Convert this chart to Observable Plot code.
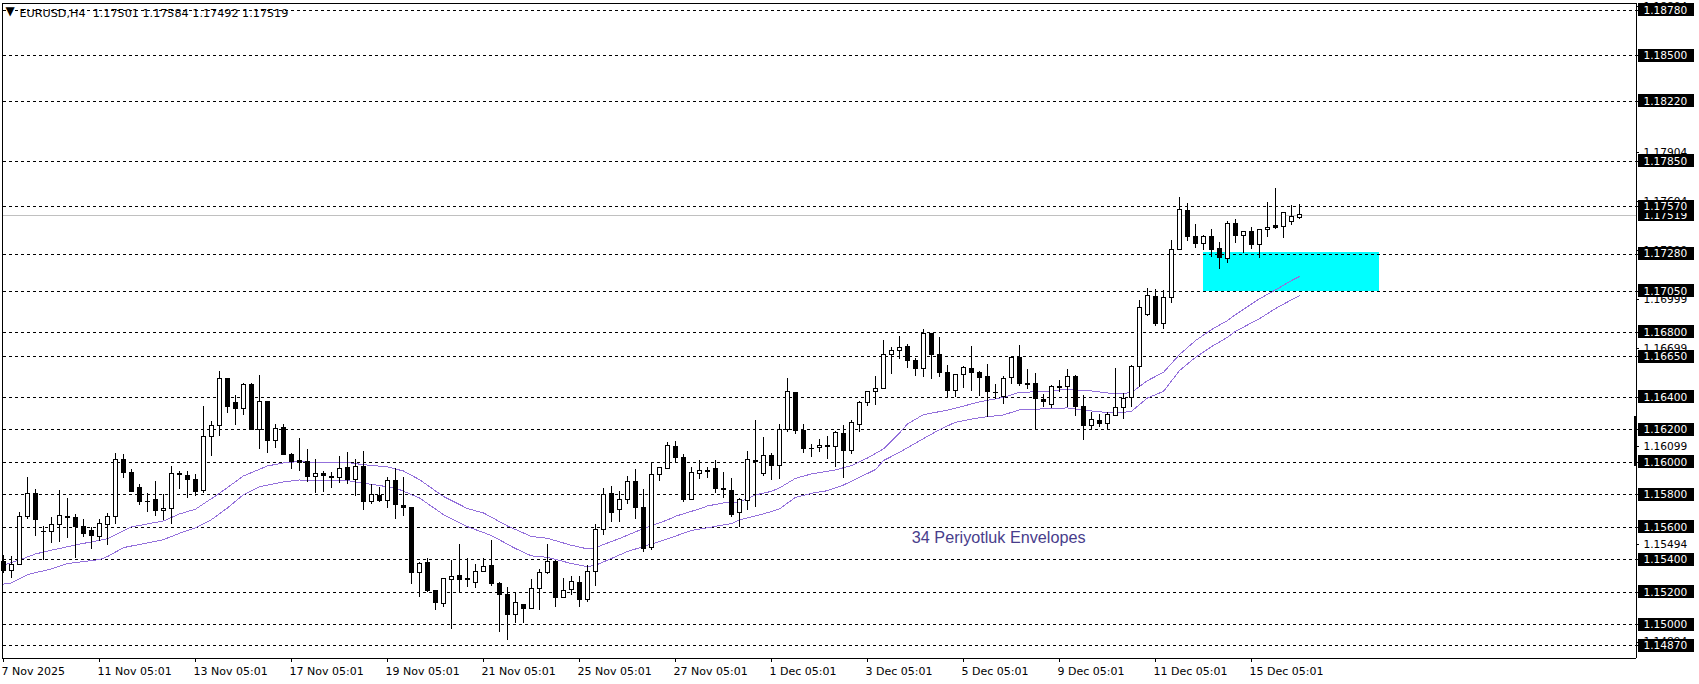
<!DOCTYPE html>
<html>
<head>
<meta charset="utf-8">
<script src="https://cdn.jsdelivr.net/npm/d3@7"></script>
<script src="https://cdn.jsdelivr.net/npm/@observablehq/plot@0.6"></script>
<style>
html,body{margin:0;padding:0;background:#fff}
svg{display:block}
svg line,svg rect,svg path{shape-rendering:crispEdges}
</style>
</head>
<body>
<div id="chart"></div>
<script>
const opens=[1.15385,1.15329,1.15368,1.15661,1.15805,1.15573,1.15571,1.15614,1.15664,1.15657,
1.156,1.15577,1.15541,1.15614,1.15664,1.16014,1.15934,1.15842,1.15758,1.15768,
1.157,1.15713,1.15928,1.15916,1.15891,1.15823,1.16156,1.16223,1.16514,1.16365,
1.16328,1.16476,1.16199,1.16369,1.16129,1.16211,1.16047,1.16008,1.16,1.15907,
1.15928,1.1591,1.15901,1.15965,1.15889,1.15971,1.15754,1.15793,1.1576,1.15885,
1.15731,1.15719,1.15317,1.15381,1.15208,1.15126,1.15276,1.15301,1.15282,1.15258,
1.15325,1.15362,1.15251,1.15184,1.15061,1.15122,1.15096,1.15219,1.15317,1.15387,
1.15163,1.15213,1.15258,1.15151,1.15323,1.15586,1.15805,1.15707,1.15768,1.15879,
1.15719,1.15475,1.15922,1.15959,1.16094,1.16026,1.15768,1.15928,1.15946,1.15959,
1.15836,1.15823,1.15686,1.15764,1.16008,1.15928,1.16039,1.15977,1.16199,1.16426,
1.16192,1.16084,1.16088,1.161,1.16094,1.16174,1.16069,1.16229,1.16365,1.16432,
1.16451,1.1666,1.16684,1.16709,1.16625,1.16574,1.16789,1.1666,1.16549,1.16436,
1.16535,1.16574,1.16549,1.16525,1.16428,1.16399,1.16518,1.16641,1.16484,1.16481,
1.16385,1.1635,1.16463,1.16463,1.16525,1.1634,1.16221,1.16254,1.16235,1.16285,
1.16332,1.16395,1.16584,1.16904,1.17017,1.1685,1.1701,1.17306,1.17545,1.17386,
1.17342,1.17386,1.1731,1.17248,1.17465,1.1739,1.17413,1.17335,1.17429,1.1745,
1.17445,1.17476,1.17501];
const closes=[1.15329,1.15368,1.15664,1.15805,1.15643,1.15569,1.15614,1.1567,1.15655,1.15602,
1.15557,1.15545,1.1562,1.15664,1.16014,1.15932,1.15815,1.15754,1.15754,1.15698,
1.15713,1.15928,1.1592,1.15889,1.15815,1.16156,1.16223,1.16513,1.16338,1.16326,
1.16476,1.16197,1.16373,1.16129,1.16205,1.16043,1.16004,1.15994,1.15907,1.15928,
1.15914,1.15901,1.15959,1.15889,1.15971,1.15754,1.15799,1.1576,1.15885,1.15735,
1.15717,1.15317,1.15374,1.15206,1.15133,1.15282,1.15295,1.15274,1.15274,1.15325,
1.15356,1.15249,1.15182,1.15059,1.15135,1.15096,1.15219,1.15319,1.15387,1.15163,
1.15206,1.15264,1.15151,1.15323,1.15584,1.15799,1.15686,1.15768,1.15879,1.15719,
1.15469,1.15922,1.15965,1.161,1.16026,1.15766,1.15934,1.15946,1.15942,1.15834,
1.15832,1.15674,1.15766,1.16014,1.16,1.16039,1.15977,1.16199,1.16432,1.1619,
1.16082,1.1608,1.161,1.16092,1.1618,1.16067,1.16242,1.16365,1.16432,1.16451,
1.1666,1.16684,1.16703,1.16621,1.16572,1.16789,1.16658,1.16547,1.16436,1.16535,
1.16578,1.16547,1.16516,1.1643,1.16424,1.16512,1.16639,1.16479,1.16473,1.16387,
1.16369,1.16461,1.16459,1.16522,1.16338,1.16221,1.1626,1.16233,1.16291,1.16334,
1.16389,1.16584,1.16949,1.17023,1.16848,1.17008,1.17306,1.17552,1.17383,1.1734,
1.17386,1.17306,1.17255,1.17465,1.17392,1.17417,1.17335,1.17429,1.17441,1.17439,
1.17534,1.17509,1.17519];
const highs=[1.15426,1.1542,1.15688,1.15903,1.15832,1.15602,1.15659,1.15825,1.15776,1.15676,
1.15645,1.15596,1.15645,1.15682,1.16051,1.16045,1.15953,1.15866,1.15805,1.15881,
1.15801,1.15973,1.1594,1.15942,1.15922,1.16342,1.16248,1.16558,1.16514,1.1641,
1.16482,1.16482,1.16533,1.16375,1.16231,1.16231,1.16055,1.16145,1.16076,1.16014,
1.15946,1.15934,1.16033,1.16057,1.16014,1.16069,1.15862,1.15842,1.15903,1.15959,
1.15903,1.15723,1.15381,1.15411,1.15213,1.15282,1.15393,1.15491,1.15405,1.15374,
1.15411,1.15516,1.15262,1.15227,1.152,1.15126,1.15276,1.15338,1.15497,1.15395,
1.15282,1.15295,1.15295,1.15362,1.15614,1.15836,1.15848,1.15823,1.1591,1.15953,
1.1583,1.16,1.15965,1.16119,1.16125,1.16045,1.15965,1.16008,1.15965,1.16008,
1.15934,1.15897,1.15778,1.16069,1.16254,1.16149,1.16051,1.16229,1.16512,1.16426,
1.16229,1.16106,1.16137,1.16156,1.16186,1.16223,1.16254,1.16371,1.16432,1.16525,
1.16746,1.16703,1.16773,1.16721,1.16639,1.16814,1.16793,1.16764,1.16592,1.16541,
1.16586,1.16709,1.16559,1.16598,1.16481,1.16529,1.16641,1.16717,1.16572,1.16543,
1.16414,1.16469,1.16502,1.16568,1.16535,1.16408,1.16307,1.16295,1.16307,1.16574,
1.1642,1.16596,1.16994,1.17066,1.1706,1.17058,1.17361,1.17625,1.17588,1.17459,
1.17392,1.17429,1.17349,1.17478,1.1749,1.17417,1.17443,1.17429,1.17597,1.17683,
1.17534,1.17579,1.17584];
const lows=[1.15317,1.15286,1.15368,1.15649,1.15545,1.15397,1.15502,1.15508,1.15532,1.15405,
1.15538,1.15465,1.15514,1.15489,1.15618,1.15901,1.15811,1.15735,1.15692,1.15668,
1.15639,1.15618,1.15832,1.15779,1.15791,1.15805,1.16037,1.1616,1.16301,1.16227,
1.16289,1.16197,1.1608,1.16055,1.16086,1.16043,1.15957,1.15946,1.15877,1.15805,
1.15813,1.1584,1.15871,1.15864,1.15791,1.15705,1.15741,1.15754,1.15717,1.15649,
1.15668,1.15249,1.15169,1.152,1.1509,1.15108,1.14973,1.15196,1.15231,1.15225,
1.15319,1.15237,1.14954,1.14905,1.1501,1.1501,1.15096,1.1509,1.15311,1.15108,
1.15163,1.15182,1.15108,1.15139,1.15237,1.15549,1.15631,1.15631,1.15741,1.15649,
1.15444,1.15457,1.15883,1.15953,1.15996,1.15754,1.15768,1.15891,1.15897,1.15809,
1.15778,1.15661,1.156,1.15705,1.15723,1.1591,1.15889,1.15895,1.16184,1.16172,
1.16055,1.1603,1.16061,1.16018,1.15969,1.15901,1.16049,1.16184,1.16344,1.1635,
1.16445,1.16541,1.16633,1.16578,1.16529,1.16522,1.1651,1.16522,1.16399,1.16395,
1.16453,1.16432,1.16406,1.16276,1.16387,1.16354,1.16477,1.16467,1.16449,1.16199,
1.16338,1.16332,1.1643,1.16336,1.16283,1.16133,1.16199,1.16211,1.16203,1.16281,
1.16264,1.16334,1.16461,1.16898,1.16836,1.16818,1.16978,1.17299,1.17359,1.17316,
1.17301,1.1726,1.17187,1.17224,1.17347,1.17281,1.17308,1.17253,1.17382,1.17431,
1.17376,1.17456,1.17492];

const upperBars=[0,2,4,6,9,13,15,16,20,22,24,27,30,33,35,37,38,41,43,45,48,50,52,55,58,60,63,66,68,71,73,74,77,80,83,84,87,88,90,92,94,96,97,99,101,104,106,108,110,112,113,115,118,122,125,127,130,133,136,139,141,143,145,147,149,151,153,154,157,159,161,162];
const upperBand=[1.15368,1.15399,1.15436,1.15459,1.15491,1.1553,1.15579,1.15602,1.15639,1.15682,1.15711,1.15809,1.15916,1.15977,1.15996,1.16004,1.16002,1.15996,1.15998,1.15985,1.15971,1.15946,1.15893,1.15789,1.15715,1.15688,1.15608,1.15543,1.15532,1.15489,1.15467,1.15475,1.15531,1.15592,1.15645,1.15668,1.15713,1.15731,1.1575,1.15754,1.15799,1.15821,1.15842,1.15901,1.15928,1.15953,1.15979,1.16026,1.16082,1.1618,1.16235,1.16293,1.1632,1.16371,1.16399,1.1643,1.16434,1.16449,1.16438,1.1642,1.16428,1.16502,1.16553,1.16662,1.16748,1.16816,1.16871,1.16908,1.17005,1.1706,1.17117,1.17142];
const lowerBars=[0,1,3,6,8,12,13,15,18,20,22,24,26,28,30,32,35,37,38,41,43,45,49,52,55,58,61,64,66,68,71,73,74,78,82,86,91,92,94,96,97,99,101,103,105,107,109,110,112,117,119,122,125,127,130,133,136,139,141,143,145,147,149,151,153,154,157,159,161,162];
const lowerBand=[1.15251,1.15258,1.15309,1.15344,1.15377,1.15401,1.1542,1.15475,1.15504,1.15524,1.15563,1.15596,1.15647,1.15719,1.15801,1.1585,1.15879,1.15891,1.15887,1.15885,1.15887,1.15871,1.15842,1.1578,1.15678,1.15604,1.15549,1.15469,1.15424,1.15415,1.15377,1.15358,1.15366,1.15451,1.15512,1.1558,1.15623,1.15645,1.1567,1.15696,1.15713,1.15784,1.15809,1.15825,1.1586,1.15907,1.15955,1.1601,1.16061,1.16201,1.16246,1.16274,1.16291,1.16322,1.16328,1.16334,1.16315,1.16301,1.16313,1.16395,1.16436,1.16563,1.16645,1.16711,1.16768,1.16805,1.16883,1.16945,1.16999,1.17023];

const levels=[1.1878,1.185,1.1822,1.1785,1.1757,1.1728,1.1705,1.168,1.1665,1.164,1.162,1.16,1.158,1.156,1.154,1.152,1.15,1.1487];
const scaleTicks=[1.18804,1.17904,1.17604,1.17299,1.16999,1.16699,1.16099,1.15494,1.14894];
const lastPrice=1.17519;
const timeLabels=["7 Nov 2025","11 Nov 05:01","13 Nov 05:01","17 Nov 05:01","19 Nov 05:01","21 Nov 05:01","25 Nov 05:01","27 Nov 05:01","1 Dec 05:01","3 Dec 05:01","5 Dec 05:01","9 Dec 05:01","11 Dec 05:01","15 Dec 05:01"];
const titleText="EURUSD,H4  1.17501 1.17584 1.17492 1.17519";
const noteText="34 Periyotluk Envelopes";

const bars=opens.map((o,i)=>({i,o,c:closes[i],h:highs[i],l:lows[i],top:Math.max(o,closes[i]),bot:Math.min(o,closes[i]),up:closes[i]>=o}));
const upperRows=upperBars.map((i,k)=>({i,v:upperBand[k]}));
const lowerRows=lowerBars.map((i,k)=>({i,v:lowerBand[k]}));
const timeRows=timeLabels.map((t,k)=>({i:k*12,t}));

const W=1699,H=684,PX=1/16262;
const pTop=1.18824,pBot=1.14793;
const axisI=(1636-3)/8,boxL=(1638-3)/8,boxR=(1694-3)/8;
const font="DejaVu Sans";
const boxH=6.5*PX;
const fmt=d=>d.toFixed(5);

const chart=Plot.plot({
  width:W,height:H,margin:0,
  style:{background:"#fff",fontFamily:font},
  x:{type:"linear",domain:[-3/8,(W-3)/8],range:[0,W],axis:null},
  y:{type:"linear",domain:[pBot,pTop],range:[658,2.5],axis:null},
  marks:[
    Plot.rect([0],{x1:149.96,x2:171.95,y1:1.17052,y2:1.1729,fill:"#00ffff"}),
    Plot.ruleY(levels,{x1:0,x2:axisI,stroke:"#000",strokeWidth:1,strokeDasharray:"3,3"}),
    Plot.ruleY([lastPrice],{x1:0,x2:axisI,stroke:"#c0c0c0",strokeWidth:1}),
    Plot.line(upperRows,{x:"i",y:"v",stroke:"#9370db",strokeWidth:1}),
    Plot.line(lowerRows,{x:"i",y:"v",stroke:"#9370db",strokeWidth:1}),
    Plot.ruleX(bars,{x:"i",y1:"l",y2:"h",stroke:"#000",strokeWidth:1}),
    Plot.rect(bars,{x1:d=>d.i-0.25,x2:d=>d.i+0.25,y1:"bot",y2:"top",dx:0.5,fill:d=>d.up?"#fff":"#000",stroke:"#000",strokeWidth:1}),
    Plot.ruleY([pTop,pBot],{x1:-0.125,x2:axisI,stroke:"#000",strokeWidth:1}),
    Plot.ruleX([-0.125,axisI],{y1:pBot,y2:pTop,stroke:"#000",strokeWidth:1}),
    Plot.rect([0],{x1:axisI-0.3,x2:axisI,y1:1.15973,y2:1.16281,fill:"#000"}),
    Plot.ruleY(scaleTicks.concat(levels),{x1:axisI,x2:axisI+0.4,stroke:"#000",strokeWidth:1}),
    Plot.ruleX(timeRows,{x:"i",y1:pBot,y2:pBot-4*PX,stroke:"#000",strokeWidth:1}),
    Plot.text(timeRows,{x:"i",text:"t",frameAnchor:"bottom",textAnchor:"start",dx:-2,dy:-10,fontSize:11,fill:"#000"}),
    Plot.text(scaleTicks,{x:boxL,y:d=>d,text:fmt,textAnchor:"start",dx:5,fontSize:10.6,fill:"#000"}),
    Plot.rect([lastPrice],{x1:boxL,x2:boxR,y1:d=>d-boxH,y2:d=>d+boxH,fill:"#000"}),
    Plot.text([lastPrice],{x:boxL,y:d=>d,text:fmt,textAnchor:"start",dx:5,fontSize:10.6,fill:"#fff"}),
    Plot.rect(levels,{x1:boxL,x2:boxR,y1:d=>d-boxH,y2:d=>d+boxH,fill:"#000"}),
    Plot.text(levels,{x:boxL,y:d=>d,text:fmt,textAnchor:"start",dx:5,fontSize:10.6,fill:"#fff"}),
    Plot.text([titleText],{text:d=>d,frameAnchor:"top-left",dx:19,dy:9,fontSize:11.2,fill:"#000"}),
    Plot.text(["▼"],{text:d=>d,frameAnchor:"top-left",dx:5,dy:6,fontSize:12,fill:"#000"}),
    Plot.text([noteText],{x:124.4,y:1.15537,text:d=>d,fontSize:16.2,fontFamily:"Liberation Sans",fill:"#483d8b"})
  ]
});
document.getElementById("chart").appendChild(chart);
</script>
</body>
</html>
